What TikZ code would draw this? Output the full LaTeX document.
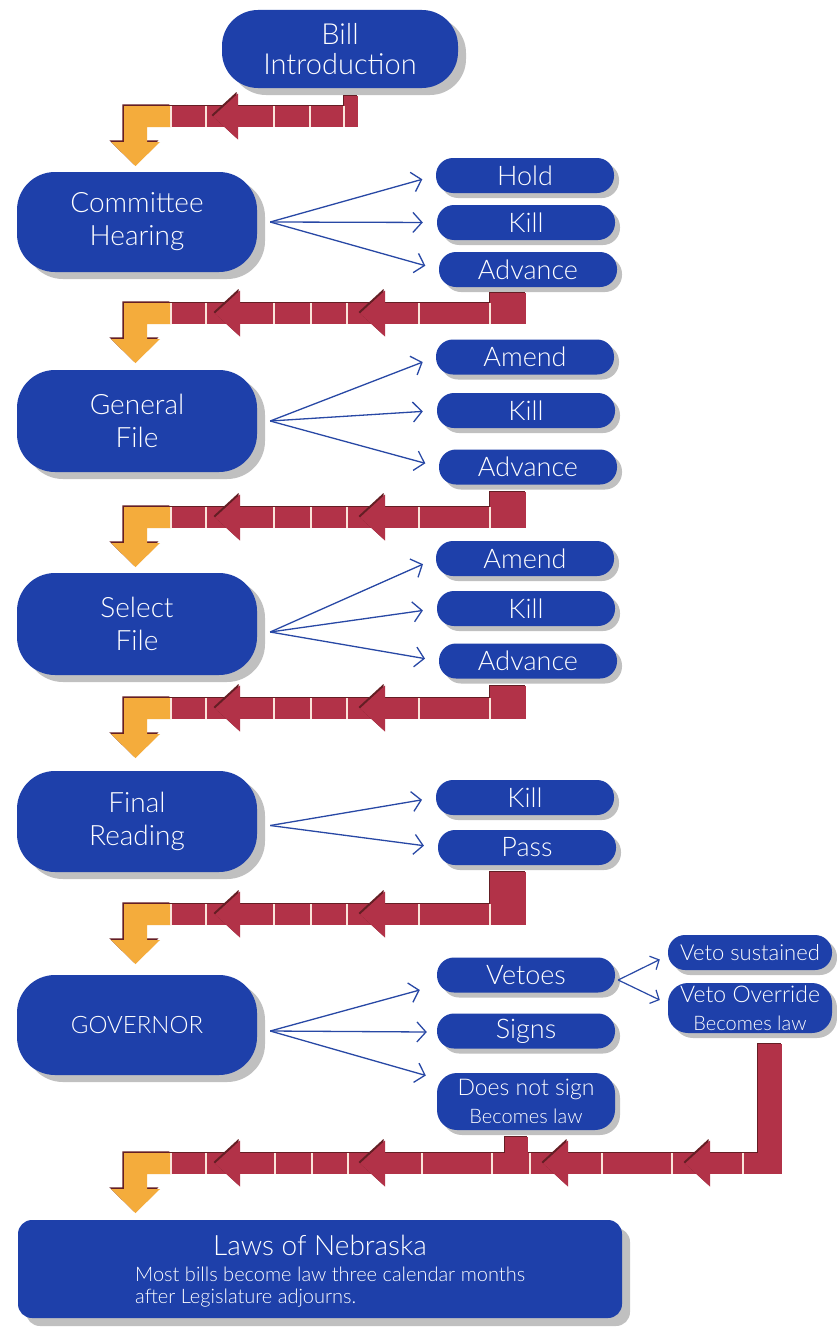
\documentclass[tikz,border=0pt]{standalone}
\usepackage{fontspec}
\setmainfont{Lato Light}
\usetikzlibrary{arrows.meta,calc,shadows}
\definecolor{nblue}{RGB}{30,64,170}
\definecolor{nred}{RGB}{178,50,72}
\definecolor{nredd}{RGB}{100,30,36}
\definecolor{norange}{RGB}{244,172,60}
\definecolor{nshadow}{RGB}{192,192,192}
\definecolor{ndiv}{RGB}{250,228,218}
\definecolor{narrow}{RGB}{40,72,165}
% #1 top y, #2 right x, #3 arrow tip xs, #4 divider xs, #5 verticals x1/x2/ytop
\newcommand\nebar[5]{%
  \begin{scope}[shift={(-1.3,-1.3)}]
    \fill[nredd] (124,#1) rectangle (#2,{#1+21});
  \end{scope}
  \foreach \va/\vb/\vc in {#5}{%
    \fill[nredd] ({\va-1.3},{\vc-1.3}) rectangle ({\vb-1.3},{#1+19.4});
    \fill[nred] (\va,\vc) rectangle (\vb,{#1+21});
  }
  \fill[nred] (171,#1) rectangle (#2,{#1+21});
  \begin{scope}[shift={(-1.6,-1.6)}]
    \fill[nredd] (124,#1) -- (171,#1) -- (171,{#1+21}) -- (147,{#1+21}) -- (147,{#1+36}) -- (160,{#1+36}) -- (135.5,{#1+60}) -- (111,{#1+36}) -- (124,{#1+36}) -- cycle;
  \end{scope}
  \fill[norange] (124,#1) -- (171,#1) -- (171,{#1+21}) -- (147,{#1+21}) -- (147,{#1+36}) -- (160,{#1+36}) -- (135.5,{#1+60}) -- (111,{#1+36}) -- (124,{#1+36}) -- cycle;
  \foreach \d in {#4}{\draw[ndiv,line width=1.6pt] (\d,#1) -- (\d,{#1+21});}
  \foreach \t in {#3}{%
    \fill[nredd] ({\t-1.5},{#1+9}) -- ({\t+23.5},{#1-14}) -- ({\t+23.5},{#1+32}) -- cycle;
    \fill[nred] (\t,{#1+10.5}) -- ({\t+25},{#1-12.5}) -- ({\t+25},{#1+33.5}) -- cycle;
  }
}
\begin{document}
\begin{tikzpicture}[x=1pt,y=-1pt,
  mainbox/.style={fill=nblue, text=white, rounded corners=38pt, minimum width=240pt,
    minimum height=100pt, inner sep=0pt, align=center, font=\fontsize{28}{33}\selectfont,
    drop shadow={shadow xshift=8pt, shadow yshift=-7pt, fill=nshadow, opacity=1}},
  smallbox/.style={fill=nblue, text=white, rounded corners=17pt, minimum width=178pt,
    minimum height=35pt, inner sep=0pt, align=center, font=\fontsize{27}{28}\selectfont,
    drop shadow={shadow xshift=5pt, shadow yshift=-5pt, fill=nshadow, opacity=1}},
  barrow/.style={draw=narrow, line width=1.3pt, -{Straight Barb[length=9pt,width=20pt]}, shorten >=14pt},
  sarrow/.style={draw=narrow, line width=1.2pt, -{Straight Barb[length=7pt,width=15pt]}}
]
\useasboundingbox (0,0) rectangle (837,1330);
\fill[white] (0,0) rectangle (837,1330);

% main boxes
\node[mainbox, minimum width=236pt, minimum height=78pt, rounded corners=36pt,
  font=\fontsize{29}{30}\selectfont] (bill) at (340,49) {Bill\\Introduction};
\node[mainbox] (ch) at (137,222) {Committee\\Hearing};
\node[mainbox, minimum height=102pt] (gf) at (137,421) {General\\File};
\node[mainbox, minimum height=102pt] (sf) at (137,624) {Select\\File};
\node[mainbox, minimum height=101pt] (fr) at (137,821.5) {Final\\Reading};
\node[mainbox, font=\fontsize{24}{26}\selectfont] (gov) at (137,1025) {GOVERNOR};

% small boxes
\node[smallbox] (hold) at (525,175.5) {Hold};
\node[smallbox] (kill1) at (526,222.5) {Kill};
\node[smallbox] (adv1) at (528,269.5) {Advance};
\node[smallbox] (amend2) at (525,357) {Amend};
\node[smallbox] (kill2) at (526,410.5) {Kill};
\node[smallbox] (adv2) at (528,467) {Advance};
\node[smallbox] (amend3) at (525,558.5) {Amend};
\node[smallbox] (kill3) at (526,608.5) {Kill};
\node[smallbox] (adv3) at (528,661) {Advance};
\node[smallbox] (kill4) at (525,797.5) {Kill};
\node[smallbox] (pass) at (527,847.5) {Pass};
\node[smallbox] (vetoes) at (526,975) {Vetoes};
\node[smallbox] (signs) at (526,1031) {Signs};
\node[smallbox, minimum height=57pt, rounded corners=20pt] (dns) at (526,1101.5)
  {\fontsize{23}{22}\selectfont Does not sign\\\fontsize{20}{22}\selectfont Becomes law};
\node[smallbox, minimum width=164pt, font=\fontsize{22}{24}\selectfont] (vs) at (750,952.5) {Veto sustained};
\node[smallbox, minimum width=164pt, minimum height=50pt, rounded corners=20pt] (vo) at (750,1008)
  {\fontsize{23}{22}\selectfont Veto Override\\\fontsize{20}{22}\selectfont Becomes law};

% laws box
\node[fill=nblue, rounded corners=14pt, minimum width=604pt, minimum height=98pt, inner sep=0pt,
  drop shadow={shadow xshift=8pt, shadow yshift=-8pt, fill=nshadow, opacity=1}] (laws) at (320,1269) {};
\node[text=white, font=\fontsize{28}{30}\selectfont, inner sep=0pt] (lawsT) at (320,1245) {Laws of Nebraska};
\node[text=white, font=\fontsize{20}{22}\selectfont, align=left, anchor=north west, inner sep=0pt]
  (lawsB) at (135,1267) {Most bills become law three calendar months\\after Legislature adjourns.};

% blue arrows
\coordinate (cho) at ($(ch.east)+(13,0)$);
\draw[barrow] (cho) -- (hold.west);
\draw[barrow] (cho) -- (kill1.west);
\draw[barrow] (cho) -- (adv1.west);
\coordinate (gfo) at ($(gf.east)+(13,0)$);
\draw[barrow] (gfo) -- (amend2.west);
\draw[barrow] (gfo) -- (kill2.west);
\draw[barrow] (gfo) -- (adv2.west);
\coordinate (sfo) at ($(sf.east)+(13,8)$);
\draw[barrow] (sfo) -- (amend3.west);
\draw[barrow] (sfo) -- (kill3.west);
\draw[barrow] (sfo) -- (adv3.west);
\coordinate (fro) at ($(fr.east)+(13,4)$);
\draw[barrow] (fro) -- (kill4.west);
\draw[barrow] (fro) -- (pass.west);
\coordinate (govo) at ($(gov.east)+(13,6)$);
\draw[barrow, shorten >=0pt] (govo) -- ($(vetoes.west)+(-17,15)$);
\draw[barrow, shorten >=0pt] (govo) -- ($(signs.west)+(-10,1)$);
\draw[barrow, shorten >=0pt] (govo) -- ($(dns.west)+(-11,-26)$);
\coordinate (veo) at ($(vetoes.east)+(3,5)$);
\draw[sarrow] (veo) -- ($(vs.west)+(-8,7)$);
\draw[sarrow] (veo) -- ($(vo.west)+(-8,-8)$);

% red / orange bars
\nebar{106}{358}{213}{171,206,274,310,344}{344/358/96}
\nebar{303}{526}{215,360}{171,206,274,311,347,419,490}{490/526/293}
\nebar{507}{526}{215,360}{171,206,274,311,347,419,490}{490/526/492}
\nebar{698}{526}{215,360}{171,206,274,311,347,419,490}{490/526/686}
\nebar{904}{526}{215,360}{171,206,274,311,347,419,490}{490/526/872}
\nebar{1153}{782}{215,360,543,685}{171,206,275,312,348,422,492,530,602,672,743}{505/528/1137,758/782/1044}
\end{tikzpicture}
\end{document}
